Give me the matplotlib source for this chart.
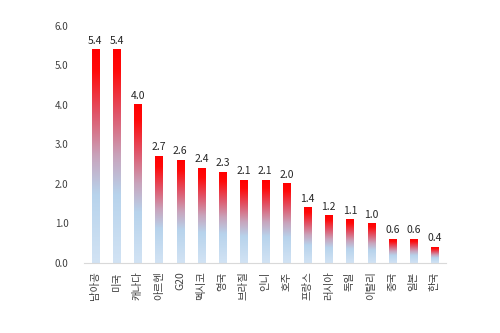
import numpy as np
import matplotlib
matplotlib.use("Agg")
from matplotlib import pyplot as plt
from matplotlib.colors import LinearSegmentedColormap

countries = ["남아공", "미국", "캐나다", "아르헨", "G20", "멕시코", "영국", "브라질",
             "인니", "호주", "프랑스", "러시아", "독일", "이탈리", "중국", "일본", "한국"]
values = [5.4, 5.4, 4.0, 2.7, 2.6, 2.4, 2.3, 2.1, 2.1, 2.0, 1.4, 1.2, 1.1, 1.0, 0.6, 0.6, 0.4]

plt.rcParams['font.family'] = ['Noto Sans CJK KR', 'DejaVu Sans']

# light blue at the bottom fading into pure red at the top
grad = LinearSegmentedColormap.from_list(
    "bluered",
    [(0.0, "#d2e3f4"), (0.32, "#b7d3ec"), (0.5, "#c8a4bc"), (0.7, "#e05468"),
     (0.9, "#ff0a0a"), (1.0, "#ff0000")])

fig = plt.figure(figsize=(5, 3.33), dpi=100)
ax = fig.add_axes([0.168, 0.2102, 0.724, 0.712])

width = 0.34
g = np.linspace(0, 1, 256).reshape(-1, 1)
for i, v in enumerate(values):
    ax.imshow(g, extent=[i - width / 2, i + width / 2, 0, v], origin='lower',
              aspect='auto', cmap=grad, interpolation='bilinear', zorder=2)
    ax.text(i, v + 0.1, "%.1f" % v, ha='center', va='bottom', fontsize=7.5, color='#262626')

ax.set_xlim(-0.54, 16.53)
ax.set_ylim(0, 6)
ax.set_yticks(np.arange(0, 6.1, 1.0))
ax.set_yticklabels(["%.1f" % t for t in np.arange(0, 6.1, 1.0)], fontsize=7, color='#404040')
ax.set_xticks(range(len(countries)))
ax.set_xticklabels(countries, rotation=90, fontsize=7.5, color='#404040', va='top')
ax.tick_params(axis='both', length=0)
ax.tick_params(axis='y', pad=11)
ax.tick_params(axis='x', pad=6)

for s in ['top', 'right', 'left']:
    ax.spines[s].set_visible(False)
ax.spines['bottom'].set_color('#d9d9d9')
ax.spines['bottom'].set_linewidth(0.8)

fig.savefig("out.png", dpi=100)
